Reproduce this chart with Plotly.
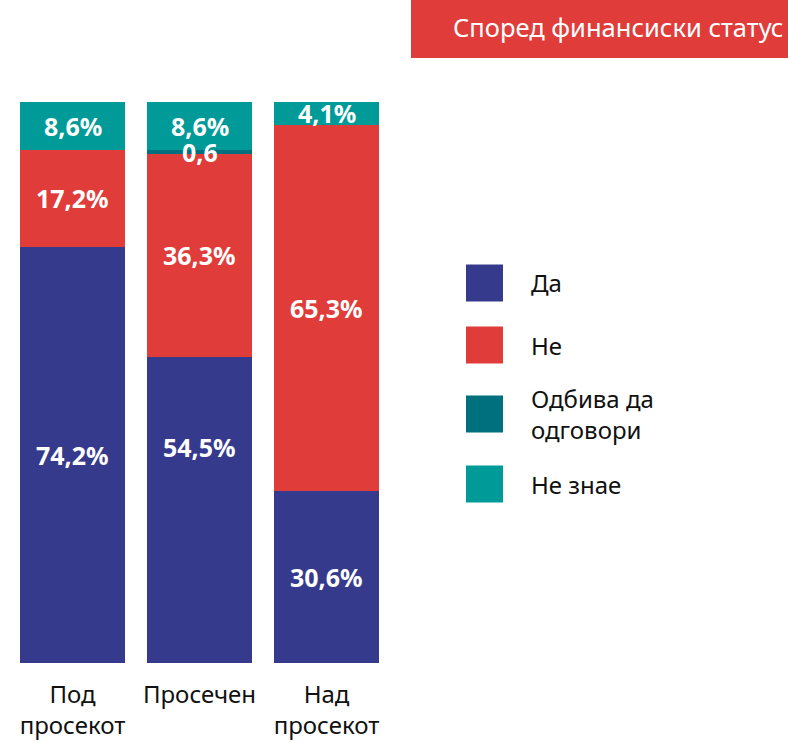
import plotly.graph_objects as go

categories = ["Под<br>просекот", "Просечен", "Над<br>просекот"]
series_names = ["Да", "Не", "Одбива да<br>одговори", "Не знае"]
da = [74.2, 54.5, 30.6]
ne = [17.2, 36.3, 65.3]
odbiva = [0.0, 0.6, 0.0]
ne_znae = [8.6, 8.6, 4.1]
series_values = [da, ne, odbiva, ne_znae]
colors = ["#353A8C", "#E03C3A", "#00707F", "#009A98"]
title_text = "Според финансиски статус"

W, H = 788, 743
FONT = "Noto Sans"

# the original places the "54,5%" label higher than its segment centre
label_shift = {(1, 0): 63}

fig = go.Figure()
for name, vals, col in zip(series_names, series_values, colors):
    fig.add_trace(go.Bar(x=categories, y=vals, name=name, marker=dict(color=col, line=dict(width=0)),
                         showlegend=False, hoverinfo="skip"))

annotations = []
# value labels
for ci, cat in enumerate(categories):
    base = 0.0
    for si, vals in enumerate(series_values):
        v = vals[ci]
        if v > 0:
            txt = (f"{v:.1f}".replace(".", ",")) + ("%" if v >= 1 else "")
            annotations.append(dict(x=cat, y=base + v / 2, xref="x", yref="y", text=f"<b>{txt}</b>",
                                    showarrow=False, font=dict(family=FONT, size=25, color="white"),
                                    yanchor="middle", xanchor="center",
                                    yshift=label_shift.get((ci, si), 0)))
        base += v

# custom legend
leg_y = [283, 345, 414, 484]
for name, col, cy in zip(series_names, colors, leg_y):
    fig.add_shape(type="rect", xref="paper", yref="paper",
                  x0=466 / W, x1=503 / W, y0=(H - (cy - 18.5)) / H, y1=(H - (cy + 18.5)) / H,
                  fillcolor=col, line=dict(width=0))
    annotations.append(dict(x=529 / W, y=(H - cy) / H, xref="paper", yref="paper", text=name,
                            showarrow=False, xanchor="left", yanchor="middle", align="left",
                            font=dict(family=FONT, size=24, color="#111111")))

# title box
fig.add_shape(type="rect", xref="paper", yref="paper", x0=411 / W, x1=1.0, y0=(H - 58) / H, y1=1.0,
              fillcolor="#E03C3A", line=dict(width=0))
annotations.append(dict(x=785 / W, y=(H - 27) / H, xref="paper", yref="paper", text=title_text,
                        showarrow=False, xanchor="right", yanchor="middle",
                        font=dict(family=FONT, size=25.5, color="white")))

fig.update_layout(
    width=W, height=H, margin=dict(l=0, r=0, t=0, b=0),
    barmode="stack", bargap=0.17,
    plot_bgcolor="white", paper_bgcolor="white",
    annotations=annotations,
    font=dict(family=FONT),
    xaxis=dict(domain=[9 / W, 390 / W], showgrid=False, zeroline=False, showline=False,
               tickfont=dict(family=FONT, size=24, color="#111111"), automargin=False, ticks="",
               ticklabelstandoff=15, fixedrange=True),
    yaxis=dict(domain=[80 / H, 641 / H], range=[0, 100], showgrid=False, zeroline=False,
               showline=False, showticklabels=False, automargin=False, fixedrange=True),
)
fig.write_html("out.html", config={"displayModeBar": False},
               post_script="document.body.style.margin='0';document.body.style.overflow='hidden';")
